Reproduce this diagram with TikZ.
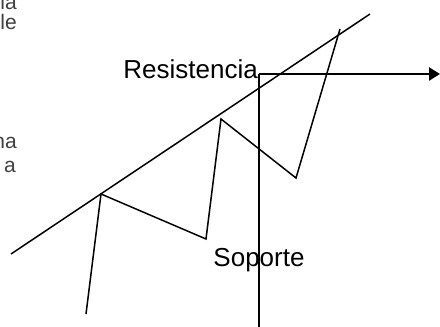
\documentclass[tikz,border=0pt]{standalone}
\usepackage{fontspec}
\setmainfont{Liberation Sans}
\usetikzlibrary{arrows.meta}

\tikzset{
    label text/.style={inner sep=0pt, font=\fontsize{26}{30}\selectfont},
    cut text/.style={inner sep=0pt, text=black!75, font=\fontsize{21}{25}\selectfont}
}

\begin{document}
\begin{tikzpicture}[x=1pt,y=-1pt]

\useasboundingbox (0,0) rectangle (440,327);

% Points of the price line
\coordinate (p1) at (86,314);
\coordinate (p2) at (101,194);
\coordinate (p3) at (206,239);
\coordinate (p4) at (221,119);
\coordinate (p5) at (296,178);
\coordinate (p6) at (340,29);

% Trend line
\coordinate (t1) at (11,254);
\coordinate (t2) at (370,14);

% Axis corner
\coordinate (corner) at (259,74);
\coordinate (bottom) at (259,327);
\coordinate (tip) at (440,74);

% Trend and price
\draw[line width=1.5pt] (t1) -- (t2);
\draw[line width=1.5pt, line join=miter] (p1) -- (p2) -- (p3) -- (p4) -- (p5) -- (p6);

% Axes
\draw[line width=2.4pt] (bottom) -- (corner);
\draw[line width=2.4pt, -{Triangle[length=11pt,width=13pt]}] (corner) -- (tip);

% Labels
\node[label text, anchor=base east] (res) at (258,78) {Resistencia};
\node[label text, anchor=base] (sop) at (259,266) {Soporte};

% Cut text on the left edge
\node[cut text, anchor=base east] (c1) at (17,9) {ia};
\node[cut text, anchor=base east] (c2) at (17,29) {le};
\node[cut text, anchor=base east] (c3) at (17,148) {na};
\node[cut text, anchor=base east] (c4) at (16,172) {a};

\end{tikzpicture}
\end{document}
